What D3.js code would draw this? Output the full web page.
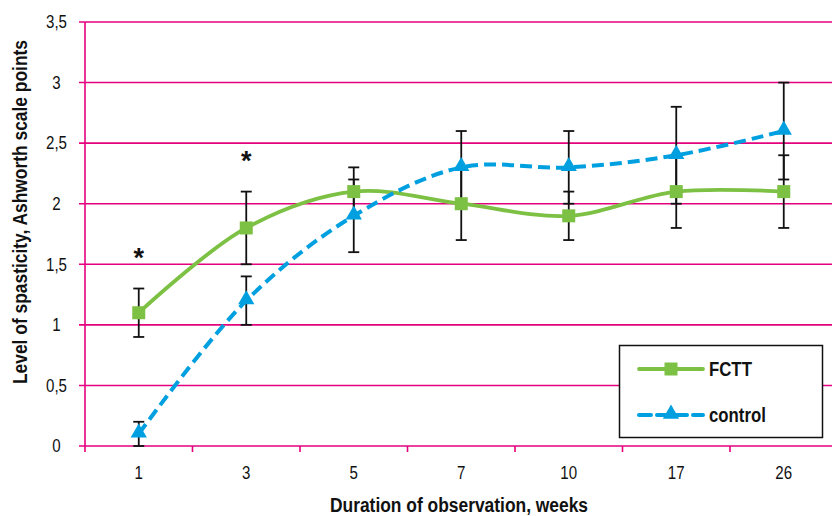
<!DOCTYPE html>
<html><head><meta charset="utf-8">
<script src="https://cdn.jsdelivr.net/npm/d3@7"></script>
<style>
body{margin:0;background:#fff;}
svg text{font-family:"Liberation Sans",Arial,sans-serif;}
</style></head>
<body><svg id="c" width="832" height="516"></svg>
<script>
const weeks = ["1","3","5","7","10","17","26"];
const fcttValues = [1.1, 1.8, 2.1, 2.0, 1.9, 2.1, 2.1];
const fcttErrors = [0.2, 0.3, 0.2, 0.3, 0.2, 0.3, 0.3];
const controlValues = [0.1, 1.2, 1.9, 2.3, 2.3, 2.4, 2.6];
const controlErrors = [0.1, 0.2, 0.3, 0.3, 0.3, 0.4, 0.4];
const yTicks = [0, 0.5, 1, 1.5, 2, 2.5, 3, 3.5];
const significant = ["1", "3"];
const seriesNames = ["FCTT", "control"];

const svg = d3.select("#c");
const pink = "#e5007d", green = "#7cc143", blue = "#00a0e0";
const x = d3.scaleBand().domain(weeks).range([85, 837.5]);
const y = d3.scaleLinear().domain([0, 3.5]).range([446, 22]);
const cx = d => x(d) + x.bandwidth() / 2;

function ctext(parent, tx, ty, str, o) {
  o = o || {};
  const sx = o.sx || 0.84;
  const g = parent.append("g").attr("transform", `translate(${tx},${ty}) ${o.rot ? "rotate(" + o.rot + ")" : ""} scale(${sx},1)`);
  g.append("text").attr("x", 0).attr("y", 0)
    .attr("text-anchor", o.anchor || "middle").attr("dy", o.dy || null)
    .attr("font-size", o.size || 17).attr("font-weight", o.bold ? "bold" : null)
    .attr("fill", "#111").text(str);
  return g;
}

// gridlines
svg.append("g").selectAll("line").data(yTicks).join("line")
  .attr("x1", 79).attr("x2", 832).attr("y1", d => y(d)).attr("y2", d => y(d))
  .attr("stroke", pink).attr("stroke-width", 1.6);
// y axis line
svg.append("line").attr("x1", 85).attr("x2", 85).attr("y1", y(3.5)).attr("y2", 452)
  .attr("stroke", pink).attr("stroke-width", 1.6);
// x ticks
const xt = weeks.map(w => x(w)).slice(1);
svg.append("g").selectAll("line").data(xt).join("line")
  .attr("x1", d => d).attr("x2", d => d).attr("y1", 446).attr("y2", 452)
  .attr("stroke", pink).attr("stroke-width", 1.6);
// tick labels
const tl = svg.append("g");
yTicks.forEach(d => ctext(tl, 56.5, y(d), String(d).replace(".", ","), {dy: "0.35em", size: 18}));
weeks.forEach(d => ctext(tl, cx(d), 479, d, {size: 18}));
// axis titles
ctext(svg, 459, 512, "Duration of observation, weeks", {size: 20, bold: true, sx: 0.87});
ctext(svg, 27, 212, "Level of spasticity, Ashworth scale points", {size: 20, bold: true, rot: -90, sx: 0.87});

// error bars
function errBars(vals, errs) {
  const g = svg.append("g").attr("stroke", "#111").attr("stroke-width", 1.8);
  weeks.forEach((w, i) => {
    const X = cx(w), lo = y(vals[i] - errs[i]), hi = y(vals[i] + errs[i]);
    g.append("line").attr("x1", X).attr("x2", X).attr("y1", lo).attr("y2", hi);
    g.append("line").attr("x1", X - 5.5).attr("x2", X + 5.5).attr("y1", lo).attr("y2", lo);
    g.append("line").attr("x1", X - 5.5).attr("x2", X + 5.5).attr("y1", hi).attr("y2", hi);
  });
}
errBars(fcttValues, fcttErrors);
errBars(controlValues, controlErrors);

const line = d3.line().x((d, i) => cx(weeks[i])).y(d => y(d)).curve(d3.curveCatmullRom.alpha(0.5));
svg.append("path").datum(fcttValues).attr("d", line).attr("fill", "none")
  .attr("stroke", green).attr("stroke-width", 3.8);
svg.append("path").datum(controlValues).attr("d", line).attr("fill", "none")
  .attr("stroke", blue).attr("stroke-width", 4).attr("stroke-dasharray", "12,6");

const sq = d3.symbol().type(d3.symbolSquare).size(169);
const tri = d3.symbol().type(d3.symbolTriangle).size(115);
svg.append("g").selectAll("path").data(fcttValues).join("path")
  .attr("d", sq).attr("transform", (d, i) => `translate(${cx(weeks[i])},${y(d)})`).attr("fill", green);
svg.append("g").selectAll("path").data(controlValues).join("path")
  .attr("d", tri).attr("transform", (d, i) => `translate(${cx(weeks[i])},${y(d)-1})`).attr("fill", blue);

// significance stars
const st = svg.append("g");
significant.forEach(d => {
  const i = weeks.indexOf(d);
  ctext(st, cx(d), y(fcttValues[i] + fcttErrors[i]) - 22, "*", {size: 27, bold: true, sx: 1});
});

// legend
const lg = svg.append("g");
lg.append("rect").attr("x", 619.5).attr("y", 345.5).attr("width", 203).attr("height", 92)
  .attr("fill", "#fff").attr("stroke", "#111").attr("stroke-width", 1.5);
lg.append("line").attr("x1", 639).attr("x2", 703).attr("y1", 369).attr("y2", 369)
  .attr("stroke", green).attr("stroke-width", 3.8).attr("stroke-linecap", "round");
lg.append("path").attr("d", sq).attr("transform", "translate(671,369)").attr("fill", green);
lg.append("line").attr("x1", 639).attr("x2", 703).attr("y1", 415).attr("y2", 415)
  .attr("stroke", blue).attr("stroke-width", 4).attr("stroke-dasharray", "12,6").attr("stroke-linecap", "round");
lg.append("path").attr("d", tri).attr("transform", "translate(671,414)").attr("fill", blue);
seriesNames.forEach((d, i) => ctext(lg, 709, 369 + i * 46, d, {anchor: "start", dy: "0.36em", size: 20, bold: true}));
</script></body></html>
